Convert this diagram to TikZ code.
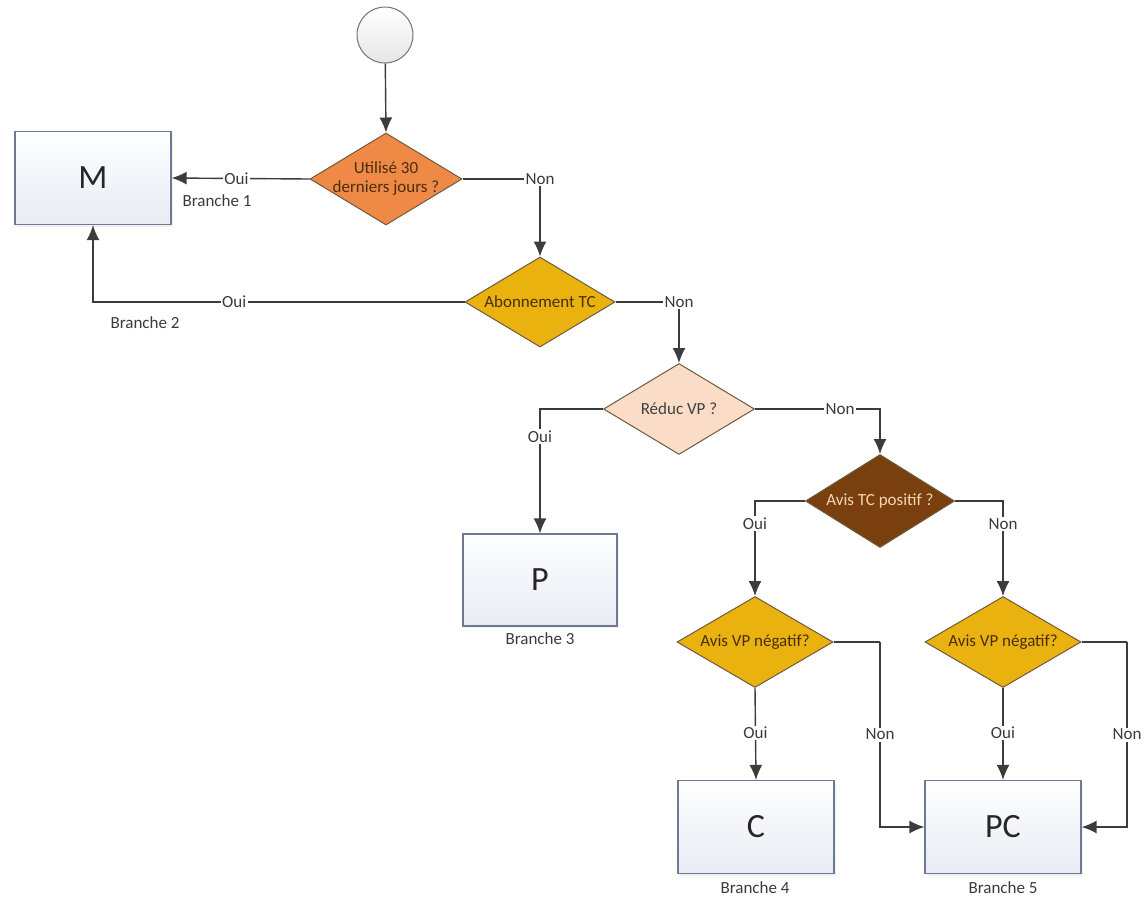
\documentclass[tikz,border=0pt]{standalone}
\usepackage{fontspec}
\setmainfont{Carlito}
\usetikzlibrary{shapes.geometric,arrows.meta,shadows}
\definecolor{linec}{HTML}{3C3C3C}
\definecolor{boxborder}{HTML}{6E7A94}
\definecolor{boxbot}{HTML}{E8EBF4}
\definecolor{lbltxt}{HTML}{3A3A3A}
\definecolor{diaborder}{HTML}{6E5A40}
\definecolor{orangef}{HTML}{EE8A45}
\definecolor{goldf}{HTML}{E9B20E}
\definecolor{peachf}{HTML}{FADCC7}
\definecolor{brownf}{HTML}{7A3F0E}
\definecolor{darktxt}{HTML}{4A2E10}
\definecolor{lighttxt}{HTML}{F6D6B2}
\begin{document}
\begin{tikzpicture}[x=1pt,y=-1pt,
  box/.style={rectangle, draw=boxborder, line width=1.3pt, top color=white, bottom color=boxbot,
    minimum width=156pt, minimum height=93pt, font=\fontsize{34}{40}\selectfont, text=black!85,
    drop shadow={opacity=0.12, shadow xshift=2pt, shadow yshift=-2pt}},
  dia/.style={diamond, draw=diaborder, line width=1pt, minimum width=152pt, minimum height=92pt, inner sep=0pt},
  dtext/.style={font=\fontsize{17}{21}\selectfont, align=center, text=darktxt},
  lbl/.style={fill=white, inner sep=1.5pt, font=\fontsize{17}{20}\selectfont, text=lbltxt},
  br/.style={font=\fontsize{17}{20}\selectfont, text=lbltxt},
  arr/.style={draw=linec, line width=1.4pt, -{Latex[length=15pt,width=13pt]}},
  ln/.style={draw=linec, line width=1.4pt}
]
\useasboundingbox (0,0) rectangle (1147,903);

% start
\node[circle, draw=black!55, line width=1pt, top color=white, bottom color=black!10, minimum size=56pt] (start) at (385,35) {};

% decisions
\node[dia, fill=orangef, label={[dtext]center:{Utilisé 30\\[-2pt]derniers jours ?}}] (d1) at (386,179) {};
\node[dia, fill=goldf, minimum width=150pt, minimum height=90pt, label={[dtext]center:Abonnement TC}] (d2) at (540,302) {};
\node[dia, fill=peachf, minimum width=151pt, minimum height=91pt, label={[dtext, text=black!75]center:Réduc VP ?}] (d3) at (679,409) {};
\node[dia, fill=brownf, minimum width=149pt, minimum height=93pt, label={[dtext, text=lighttxt]center:Avis TC positif ?}] (d4) at (880,501) {};
\node[dia, fill=goldf, minimum width=156pt, minimum height=91pt, label={[dtext]center:Avis VP négatif?}] (d5) at (755,642) {};
\node[dia, fill=goldf, minimum width=156pt, minimum height=91pt, label={[dtext]center:Avis VP négatif?}] (d6) at (1003,642) {};

% outcomes
\node[box] (M) at (93,178) {M};
\node[box, minimum width=154pt, minimum height=92pt] (P) at (540,580) {P};
\node[box] (C) at (756,827) {C};
\node[box] (PC) at (1003,827) {PC};

% branch captions
\node[br] (b1) at (217,201) {Branche 1};
\node[br] (b2) at (145,323) {Branche 2};
\node[br] (b3) at (540,639) {Branche 3};
\node[br] (b4) at (755,888) {Branche 4};
\node[br] (b5) at (1003,888) {Branche 5};

% helper corners
\coordinate (k5) at (880,642);
\coordinate (k6) at (1127,642);

% connectors
\draw[arr] (start) -- (d1.north);
\draw[arr] (d1.west) -- node[lbl, pos=0.53]{Oui} (M.east);
\draw[arr] (d1.east) -| node[lbl, pos=0.5]{Non} (d2.north);
\draw[arr] (d2.west) -| node[lbl, pos=0.31]{Oui} (M.south);
\draw[arr] (d2.east) -| node[lbl, pos=0.5]{Non} (d3.north);
\draw[arr] (d3.west) -| node[lbl, pos=0.61]{Oui} (P.north);
\draw[arr] (d3.east) -| node[lbl, pos=0.34]{Non} (d4.north);
\draw[arr] (d4.west) -| node[lbl, pos=0.62]{Oui} (d5.north);
\draw[arr] (d4.east) -| node[lbl, pos=0.62]{Non} (d6.north);
\draw[arr] (d5.south) -- node[lbl, pos=0.49]{Oui} (C.north);
\draw[arr] (d6.south) -- node[lbl, pos=0.49]{Oui} (PC.north);
\draw[ln] (d5.east) -- (k5);
\draw[arr] (k5) |- node[lbl, pos=0.25]{Non} (PC.west);
\draw[ln] (d6.east) -- (k6);
\draw[arr] (k6) |- node[lbl, pos=0.25]{Non} (PC.east);
\end{tikzpicture}
\end{document}
